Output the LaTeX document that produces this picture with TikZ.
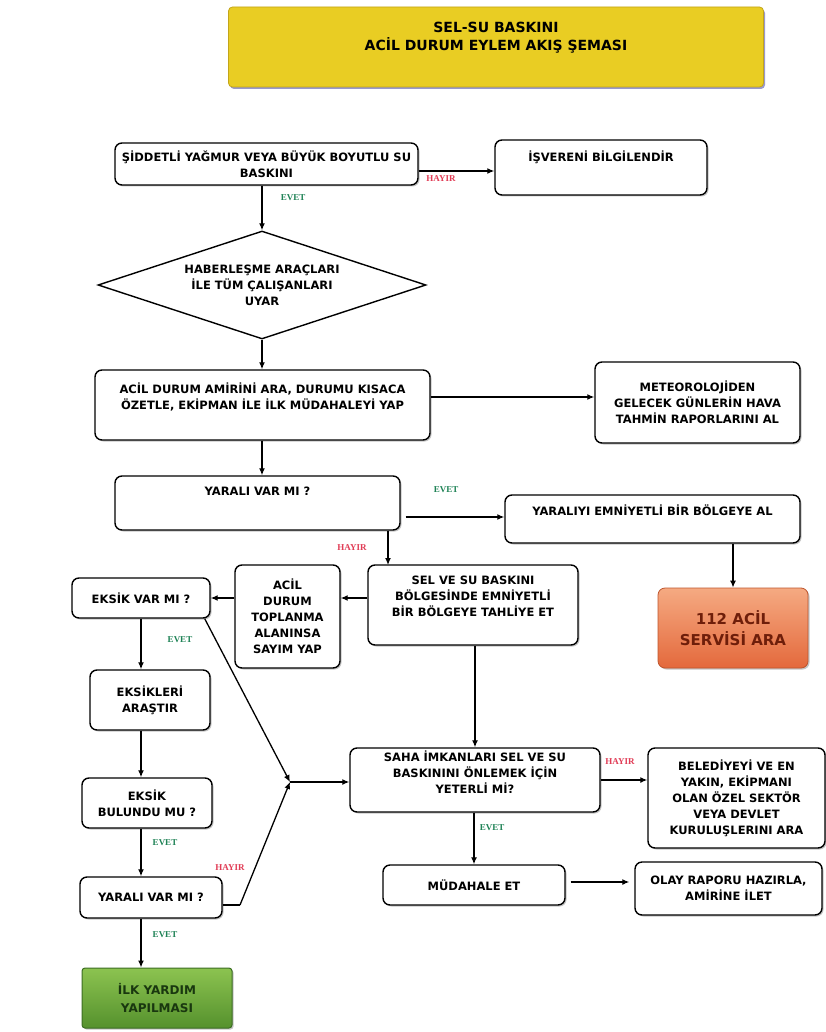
\documentclass[tikz,border=0pt]{standalone}
\usepackage{fontspec}
\setmainfont{DejaVu Sans}
\newfontfamily\lblfont{Liberation Serif}
\usetikzlibrary{arrows.meta,shapes.geometric,shadows,calc}
\definecolor{evetc}{RGB}{30,130,85}
\definecolor{hayirc}{RGB}{225,60,85}
\definecolor{titley}{RGB}{233,205,35}
\definecolor{titleb}{RGB}{195,165,25}
\definecolor{orTop}{RGB}{245,170,130}
\definecolor{orBot}{RGB}{228,105,60}
\definecolor{orEdge}{RGB}{190,85,45}
\definecolor{orText}{RGB}{110,30,10}
\definecolor{grTop}{RGB}{140,195,80}
\definecolor{grBot}{RGB}{85,145,45}
\definecolor{grEdge}{RGB}{60,110,35}
\definecolor{grText}{RGB}{25,55,15}
\begin{document}
\begin{tikzpicture}[x=1pt,y=-1pt,
  shad/.style={drop shadow={shadow xshift=1.5pt,shadow yshift=-1.5pt,fill=black!45,opacity=0.5}},
  box/.style={draw=black, line width=1.4pt, rounded corners=7pt, fill=white, align=center,
    font=\bfseries\fontsize{11.5}{16}\selectfont, inner sep=2pt, shad},
  up/.style={text height=8pt, text depth=#1},
  dia/.style={draw=black, shape=diamond, line width=1.4pt, shape aspect=3, fill=white,
    minimum width=328pt, minimum height=108pt, inner sep=0pt, align=center,
    font=\bfseries\fontsize{11.5}{16}\selectfont},
  arr/.style={line width=1.3pt, -{Latex[length=7pt,width=6pt]}},
  ln/.style={line width=1.3pt},
  evet/.style={font=\lblfont\bfseries\fontsize{9}{9}\selectfont, text=evetc},
  hayir/.style={font=\lblfont\bfseries\fontsize{9}{9}\selectfont, text=hayirc}]
\useasboundingbox (0,0) rectangle (826,1032);
\fill[white] (0,0) rectangle (826,1032);

% title
\node[draw=titleb, line width=0.8pt, fill=titley, rounded corners=4pt, minimum width=535pt, minimum height=80pt,
  drop shadow={shadow xshift=1.5pt,shadow yshift=-2pt,fill=black!50!blue,opacity=0.4}] (title) at (496,47) {};
\node[align=center, font=\bfseries\fontsize{14}{18}\selectfont] (titletext) at (496,38) {SEL-SU BASKINI\\ACİL DURUM EYLEM AKIŞ ŞEMASI};

% boxes
\node[box, minimum width=303pt, minimum height=42pt] (s1) at (266.5,164) {ŞİDDETLİ YAĞMUR VEYA BÜYÜK BOYUTLU SU\\BASKINI};
\node[box, up=19pt, minimum width=212pt, minimum height=55pt] (isv) at (601,167.5) {İŞVERENİ BİLGİLENDİR};
\node[dia] (dia) at (262,285) {HABERLEŞME ARAÇLARI\\İLE TÜM ÇALIŞANLARI\\UYAR};
\node[box, text depth=18pt, minimum width=335pt, minimum height=70pt] (b2) at (262.5,405) {ACİL DURUM AMİRİNİ ARA, DURUMU KISACA\\ÖZETLE, EKİPMAN İLE İLK MÜDAHALEYİ YAP};
\node[box, minimum width=205pt, minimum height=81pt] (met) at (697.5,402.5) {METEOROLOJİDEN\\GELECEK GÜNLERİN HAVA\\TAHMİN RAPORLARINI AL};
\node[box, up=24pt, minimum width=285pt, minimum height=54pt] (y1) at (257.5,503) {YARALI VAR MI ?};
\node[box, up=16pt, minimum width=295pt, minimum height=48pt] (yem) at (652.5,519) {YARALIYI EMNİYETLİ BİR BÖLGEYE AL};
\node[draw=orEdge, line width=0.8pt, rounded corners=7pt, top color=orTop, bottom color=orBot,
  minimum width=150pt, minimum height=80pt, align=center, text=orText,
  font=\bfseries\fontsize{15}{21}\selectfont, shad] (e112) at (733,628) {112 ACİL\\SERVİSİ ARA};
\node[box, text depth=17pt, minimum width=210pt, minimum height=80pt] (sel) at (473,605) {SEL VE SU BASKINI\\BÖLGESİNDE EMNİYETLİ\\BİR BÖLGEYE TAHLİYE ET};
\node[box, minimum width=105pt, minimum height=103pt] (acil) at (287.5,616.5) {ACİL\\DURUM\\TOPLANMA\\ALANINSA\\SAYIM YAP};
\node[box, minimum width=138pt, minimum height=40pt] (eksik) at (141,598) {EKSİK VAR MI ?};
\node[box, minimum width=120pt, minimum height=60pt] (eksikleri) at (150,700) {EKSİKLERİ\\ARAŞTIR};
\node[box, minimum width=130pt, minimum height=50pt] (bulundu) at (147,803) {EKSİK\\BULUNDU MU ?};
\node[box, minimum width=142pt, minimum height=41pt] (y2) at (151,897.5) {YARALI VAR MI ?};
\node[draw=grEdge, line width=1pt, rounded corners=3pt, top color=grTop, bottom color=grBot,
  minimum width=150pt, minimum height=60pt, align=center, text=grText,
  font=\bfseries\fontsize{12}{18}\selectfont, shad] (ilk) at (157,998) {İLK YARDIM\\YAPILMASI};
\node[box, text depth=15pt, minimum width=250pt, minimum height=64pt] (saha) at (475,780) {SAHA İMKANLARI SEL VE SU\\BASKININI ÖNLEMEK İÇİN\\YETERLİ Mİ?};
\node[box, minimum width=177pt, minimum height=100pt] (bel) at (736.5,798) {BELEDİYEYİ VE EN\\YAKIN, EKİPMANI\\OLAN ÖZEL SEKTÖR\\VEYA DEVLET\\KURULUŞLERINI ARA};
\node[box, minimum width=182pt, minimum height=40pt] (mud) at (474,885) {MÜDAHALE ET};
\node[box, minimum width=187pt, minimum height=53pt] (olay) at (728.5,888.5) {OLAY RAPORU HAZIRLA,\\AMİRİNE İLET};

\coordinate (J) at (290,782);
\coordinate (yk) at (240,905);
\coordinate (selin) at (388,565);

% connectors
\draw[arr] ($(s1.east)+(0,7)$) -- ($(s1.east -| isv.west)+(0,7)$);
\node[hayir] (h1) at (441,179) {HAYIR};
\draw[arr] (dia.north |- s1.south) -- (dia.north);
\node[evet] (e1) at (293,198) {EVET};
\draw[arr] (dia.south) -- (dia.south |- b2.north);
\draw[arr] ($(b2.east)+(0,-8)$) -- ($(b2.east -| met.west)+(0,-8)$);
\draw[arr] (b2.south -| dia.south) -- (y1.north -| dia.south);
\draw[arr] ($(y1.east)+(5,14)$) -- ($(y1.east -| yem.west)+(0,14)$);
\node[evet] (e2) at (446,490) {EVET};
\draw[arr] (e112.north |- yem.south) -- (e112.north);
\draw[arr] (selin |- y1.south) -- (selin);
\node[hayir] (h2) at (352,548) {HAYIR};
\draw[arr] ($(sel.west)+(0,-7)$) -- ($(sel.west -| acil.east)+(0,-7)$);
\draw[arr] (eksik.east -| acil.west) -- (eksik.east);
\draw[arr] (eksik.south) -- (eksik.south |- eksikleri.north);
\node[evet] (e3) at (180,640) {EVET};
\draw[arr] ($(eksik.south east)+(-6,0)$) -- (J);
\draw[arr] (eksikleri.south -| eksik.south) -- (bulundu.north -| eksik.south);
\draw[arr] (bulundu.south -| eksik.south) -- (y2.north -| eksik.south);
\node[evet] (e4) at (165,843) {EVET};
\draw[ln] (y2.east |- yk) -- (yk);
\draw[arr] (yk) -- (J);
\node[hayir] (h3) at (230,868) {HAYIR};
\draw[arr] (y2.south -| eksik.south) -- (ilk.north -| eksik.south);
\node[evet] (e5) at (165,935) {EVET};
\draw[arr] (J) -- (J -| saha.west);
\draw[arr] (sel.south -| saha.north) -- (saha.north);
\draw[arr] (saha.east) -- (saha.east -| bel.west);
\node[hayir] (h4) at (620,762) {HAYIR};
\draw[arr] (saha.south -| mud.north) -- (mud.north);
\node[evet] (e6) at (492,828) {EVET};
\draw[arr] ($(mud.east)+(5,-3)$) -- ($(mud.east -| olay.west)+(-5,-3)$);
\end{tikzpicture}
\end{document}
